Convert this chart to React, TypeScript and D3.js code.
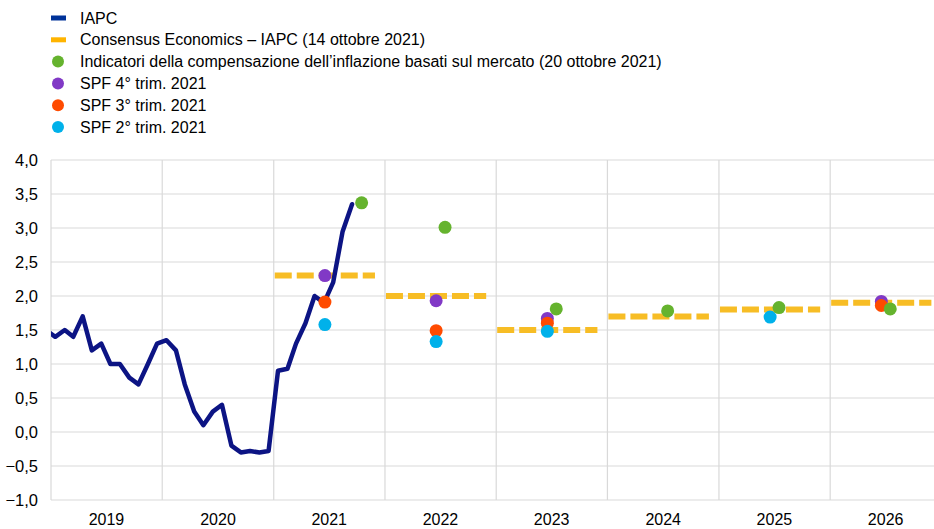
import { useEffect, useRef } from "react"
import * as d3 from "d3"

// IAPC, monthly y/y %, Dec 2018 - Sep 2021
const iapcStart = [2018, 11]
const iapcValues = [
  1.5,
  1.4, 1.5, 1.4, 1.7, 1.2, 1.3, 1.0, 1.0, 0.8, 0.7, 1.0, 1.3,
  1.35, 1.2, 0.7, 0.3, 0.1, 0.3, 0.4, -0.2, -0.3, -0.28, -0.3, -0.28,
  0.9, 0.93, 1.3, 1.6, 2.0, 1.9, 2.2, 2.95, 3.35,
]

// Consensus Economics, annual
const consensusYears = [2021, 2022, 2023, 2024, 2025, 2026]
const consensusValues = [2.3, 2.0, 1.5, 1.7, 1.8, 1.9]

// market-based indicators (year fraction gives position)
const marketYears = [2021.79, 2022.54, 2023.54, 2024.54, 2025.54, 2026.54]
const marketValues = [3.37, 3.01, 1.81, 1.78, 1.83, 1.81]

// SPF rounds
const spfQ4Years = [2021.46, 2022.46, 2023.46, 2026.46]
const spfQ4Values = [2.3, 1.93, 1.67, 1.92]
const spfQ3Years = [2021.46, 2022.46, 2023.46, 2026.46]
const spfQ3Values = [1.91, 1.49, 1.6, 1.86]
const spfQ2Years = [2021.46, 2022.46, 2023.46, 2025.46]
const spfQ2Values = [1.58, 1.33, 1.48, 1.69]

const xYears = [2019, 2020, 2021, 2022, 2023, 2024, 2025, 2026]
const yTicks = [-1, -0.5, 0, 0.5, 1, 1.5, 2, 2.5, 3, 3.5, 4]

const legendItems = [
  { label: "IAPC", color: "#003299", kind: "rect" },
  { label: "Consensus Economics – IAPC (14 ottobre 2021)", color: "#ffb400", kind: "rect" },
  { label: "Indicatori della compensazione dell’inflazione basati sul mercato (20 ottobre 2021)", color: "#65b32e", kind: "dot" },
  { label: "SPF 4° trim. 2021", color: "#8139c6", kind: "dot" },
  { label: "SPF 3° trim. 2021", color: "#ff4b00", kind: "dot" },
  { label: "SPF 2° trim. 2021", color: "#00b1ea", kind: "dot" },
]

const COLORS = {
  line: "#0c1484",
  consensus: "#f7bd25",
  market: "#65b32e",
  q4: "#8139c6",
  q3: "#ff4b00",
  q2: "#00b1ea",
}

function yearToDate(y: number) {
  const yr = Math.floor(y)
  const start = new Date(yr, 0, 1).getTime()
  const end = new Date(yr + 1, 0, 1).getTime()
  return new Date(start + (y - yr) * (end - start))
}

export default function App() {
  const svgRef = useRef<SVGSVGElement>(null)

  useEffect(() => {
    if (!svgRef.current) return
    d3.select(svgRef.current).selectAll("*").remove()

    const width = 934
    const height = 529
    const plot = { left: 51, right: 934, top: 160, bottom: 500 }
    const font = "'Liberation Sans', Arial, sans-serif"

    const svg = d3.select(svgRef.current).attr("width", width).attr("height", height)

    const x = d3
      .scaleTime()
      .domain([new Date(2019, 0, 1), new Date(2027, 0, 1)])
      .range([plot.left, plot.left + 8 * 111.3])

    const y = d3.scaleLinear().domain([-1, 4]).range([plot.bottom, plot.top])

    svg
      .append("defs")
      .append("clipPath")
      .attr("id", "plotclip")
      .append("rect")
      .attr("x", plot.left)
      .attr("y", 0)
      .attr("width", plot.right - plot.left)
      .attr("height", height)

    // horizontal grid
    svg
      .append("g")
      .selectAll("line")
      .data(yTicks)
      .enter()
      .append("line")
      .attr("x1", plot.left)
      .attr("x2", plot.right)
      .attr("y1", (d) => y(d))
      .attr("y2", (d) => y(d))
      .attr("stroke", "#d9d9d9")
      .attr("stroke-width", 1.2)

    // vertical year grid
    svg
      .append("g")
      .selectAll("line")
      .data([...xYears, 2027])
      .enter()
      .append("line")
      .attr("x1", (d) => x(new Date(d, 0, 1)))
      .attr("x2", (d) => x(new Date(d, 0, 1)))
      .attr("y1", plot.top)
      .attr("y2", plot.bottom)
      .attr("stroke", "#d9d9d9")
      .attr("stroke-width", 1.2)

    // y labels
    svg
      .append("g")
      .selectAll("text")
      .data(yTicks)
      .enter()
      .append("text")
      .attr("x", 38)
      .attr("y", (d) => y(d))
      .attr("dy", "0.35em")
      .attr("text-anchor", "end")
      .attr("font-family", font)
      .attr("font-size", "16.5px")
      .attr("fill", "#000")
      .text((d) => d3.format(".1f")(d).replace(".", ","))

    // x labels
    svg
      .append("g")
      .selectAll("text")
      .data(xYears)
      .enter()
      .append("text")
      .attr("x", (d) => x(new Date(d, 6, 2)))
      .attr("y", 525)
      .attr("text-anchor", "middle")
      .attr("font-family", font)
      .attr("font-size", "16px")
      .attr("fill", "#000")
      .text((d) => d)

    const g = svg.append("g").attr("clip-path", "url(#plotclip)")

    // consensus dashed segments
    g.selectAll(".cons")
      .data(consensusYears.map((yr, i) => ({ yr, v: consensusValues[i] })))
      .enter()
      .append("line")
      .attr("class", "cons")
      .attr("x1", (d) => x(new Date(d.yr, 0, 1)) + 1)
      .attr("x2", (d) => x(yearToDate(d.yr + 0.91)))
      .attr("y1", (d) => y(d.v))
      .attr("y2", (d) => y(d.v))
      .attr("stroke", COLORS.consensus)
      .attr("stroke-width", 6)
      .attr("stroke-dasharray", "17,5")

    // IAPC line
    const iapc = iapcValues.map((v, i) => ({
      date: new Date(iapcStart[0], iapcStart[1] + i, 15),
      v,
    }))
    const line = d3
      .line<{ date: Date; v: number }>()
      .x((d) => x(d.date))
      .y((d) => y(d.v))
    g.append("path")
      .datum(iapc)
      .attr("fill", "none")
      .attr("stroke", COLORS.line)
      .attr("stroke-width", 4.5)
      .attr("stroke-linejoin", "round")
      .attr("stroke-linecap", "round")
      .attr("d", line)

    const dots = (years: number[], values: number[], color: string) => {
      g.append("g")
        .selectAll("circle")
        .data(years.map((yr, i) => ({ yr, v: values[i] })))
        .enter()
        .append("circle")
        .attr("cx", (d) => x(yearToDate(d.yr)))
        .attr("cy", (d) => y(d.v))
        .attr("r", 6.5)
        .attr("fill", color)
    }
    dots(spfQ4Years, spfQ4Values, COLORS.q4)
    dots(spfQ3Years, spfQ3Values, COLORS.q3)
    dots(spfQ2Years, spfQ2Values, COLORS.q2)
    dots(marketYears, marketValues, COLORS.market)

    // legend
    const legend = svg
      .append("g")
      .selectAll("g")
      .data(legendItems)
      .enter()
      .append("g")
      .attr("transform", (_, i) => `translate(0, ${18 + i * 21.8})`)

    legend
      .filter((d) => d.kind === "rect")
      .append("rect")
      .attr("x", 51)
      .attr("y", -2.5)
      .attr("width", 15)
      .attr("height", 5)
      .attr("fill", (d) => d.color)

    legend
      .filter((d) => d.kind === "dot")
      .append("circle")
      .attr("cx", 58)
      .attr("cy", 0)
      .attr("r", 6)
      .attr("fill", (d) => d.color)

    legend
      .append("text")
      .attr("x", 80)
      .attr("y", 0)
      .attr("dy", "0.35em")
      .attr("font-family", font)
      .attr("font-size", "16px")
      .attr("fill", "#000")
      .text((d) => d.label)
  }, [])

  return (
    <div style={{ position: "absolute", left: 0, top: 0, width: 934, height: 529, background: "#fff" }}>
      <svg ref={svgRef} style={{ display: "block" }} />
    </div>
  )
}
